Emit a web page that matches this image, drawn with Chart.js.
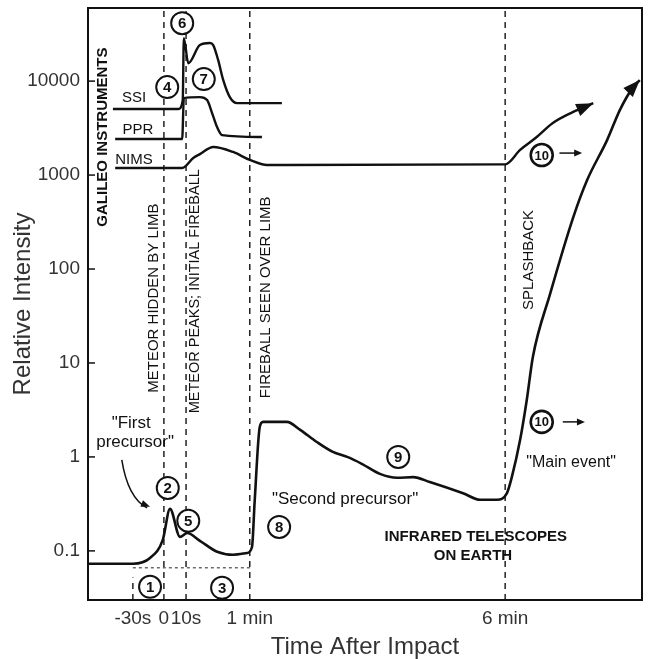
<!DOCTYPE html>
<html>
<head>
<meta charset="utf-8">
<title>Impact light curve</title>
<script src="https://cdn.jsdelivr.net/npm/chart.js@4.4.1/dist/chart.umd.min.js"></script>
<style>
  html, body { margin: 0; padding: 0; background: #fff; }
  #wrap { width: 648px; height: 659px; }
</style>
</head>
<body>
<div id="wrap"><canvas id="lightCurve"></canvas></div>
<script>
const FONT = '"Liberation Sans", Arial, Helvetica, sans-serif';

// schematic time axis (not to scale): where each marked time sits
const timeLabels = ['-30s', '0', '10s', '1 min', '6 min'];
const timePos = [8.1, 13.7, 17.7, 29.2, 75.3];

const intensityTicks = [0.1, 1, 10, 100, 1000, 10000];
const intensityLabels = ['0.1', '1', '10', '100', '1000', '10000'];

// infrared telescopes on Earth
const irX = [0, 8.1, 11.2, 13.5, 14.8, 16.6, 17.9, 20.2, 23.3, 26.2, 28.7, 29.6, 30.1, 31.0, 31.6,
  35.9, 38.3, 41.3, 44.2, 46.8, 49.5, 52.7, 55.8, 58.7, 61.7, 67.7, 70.8, 73.8, 75.6, 76.5,
  78.0, 79.2, 80.3, 83.4, 87.6, 90.1, 93.7, 96.0, 98.4, 99.6];
const irY = [0.073, 0.073, 0.084, 0.131, 0.28, 0.141, 0.155, 0.128, 0.098, 0.091, 0.095, 0.11, 0.35, 2.08, 2.36,
  2.36, 1.94, 1.44, 1.13, 1.0, 0.84, 0.66, 0.60, 0.61, 0.54, 0.41, 0.35, 0.35, 0.41, 0.61,
  1.52, 4.04, 11.6, 54, 357, 885, 2355, 4915, 8630, 10250];

// Galileo instruments
const ssiX = [4.5, 16.3, 17.1, 17.3, 18.1, 20.2, 22.0, 22.6, 23.5, 24.4, 25.6, 26.9, 35.0];
const ssiY = [5040, 5040, 6280, 28700, 15500, 24200, 25400, 24200, 16700, 10300, 6760, 5830, 5830];

const pprX = [4.9, 17.0, 17.3, 20.2, 21.5, 22.4, 23.3, 24.2, 31.4];
const pprY = [2420, 2420, 6590, 6760, 6280, 4570, 3240, 2660, 2540];

const nimsX = [4.9, 17.0, 19.0, 20.2, 22.6, 26.2, 29.2, 32.3, 75.3, 78.0, 81.0, 83.9, 87.5, 91.2];
const nimsY = [1190, 1190, 1520, 1670, 1990, 1760, 1450, 1280, 1300, 1850, 2540, 3580, 4680, 5830];

// bracket under intervals 1 and 3
const bracketX = [8.1, 29.6];
const bracketLevel = 0.066;

const Y_MIN = 0.03, Y_MAX = 60000;

const pts = (xs, ys) => xs.map((x, i) => ({ x, y: ys[i] }));

function curve(xs, ys, width, arrow) {
  return {
    data: pts(xs, ys),
    borderColor: '#111',
    borderWidth: width,
    cubicInterpolationMode: 'monotone',
    pointRadius: 0,
    fill: false,
    arrowEnd: arrow
  };
}

function dashed(data, width, dash) {
  return {
    data,
    borderColor: '#222',
    borderWidth: width,
    borderDash: dash,
    tension: 0,
    pointRadius: 0,
    fill: false
  };
}

const datasets = [
  curve(irX, irY, 2.6, true),
  curve(ssiX, ssiY, 2.4, false),
  curve(pprX, pprY, 2.4, false),
  curve(nimsX, nimsY, 2.4, true),
  dashed([{ x: timePos[0], y: Y_MIN }, { x: timePos[0], y: 0.052 }], 1.5, [6, 5]),
  ...timePos.slice(1).map(t => dashed([{ x: t, y: Y_MIN }, { x: t, y: Y_MAX }], 1.5, [6, 5])),
  dashed(bracketX.map(x => ({ x, y: bracketLevel })), 1, [3, 3])
];

// text drawn over the plot, placed in data coordinates
const notes = [
  { t: 'GALILEO INSTRUMENTS', x: 2.7, y: 2535, rot: true, font: 'bold 15px' },
  { t: 'SSI', x: 8.3, y: 6590, font: '15px' },
  { t: 'PPR', x: 9.0, y: 3010, font: '15px' },
  { t: 'NIMS', x: 8.3, y: 1445, font: '15px' },
  { t: 'METEOR HIDDEN BY LIMB', x: 11.9, y: 49, rot: true, font: '15px' },
  { t: 'METEOR PEAKS; INITIAL FIREBALL', x: 19.3, y: 58, rot: true, font: '14.5px' },
  { t: 'FIREBALL SEEN OVER LIMB', x: 32.1, y: 50, rot: true, font: '15px' },
  { t: 'SPLASHBACK', x: 79.6, y: 125, rot: true, font: '15px' },
  { t: '"First', x: 7.8, y: 2.3, font: '17px' },
  { t: 'precursor"', x: 8.5, y: 1.44, font: '17px' },
  { t: '"Second precursor"', x: 46.4, y: 0.35, font: '17px' },
  { t: '"Main event"', x: 87.2, y: 0.86, font: '16px' },
  { t: 'INFRARED TELESCOPES', x: 70.0, y: 0.141, font: 'bold 15px' },
  { t: 'ON EARTH', x: 69.5, y: 0.0885, font: 'bold 15px' }
];

const markers = [
  ['1', 11.2, 0.0414], ['2', 14.4, 0.468], ['3', 24.2, 0.0404], ['4', 14.3, 8630],
  ['5', 18.1, 0.209], ['6', 17.0, 41400], ['7', 20.9, 10500], ['8', 34.5, 0.18],
  ['9', 56.0, 1.0], ['10', 81.9, 1633], ['10', 81.9, 2.36]
];

const shortArrows = [
  { x0: 85.1, x1: 89.2, y: 1714 },
  { x0: 85.7, x1: 89.7, y: 2.36 }
];

function arrowHead(ctx, x0, y0, x1, y1, len, half) {
  const a = Math.atan2(y1 - y0, x1 - x0);
  ctx.beginPath();
  ctx.moveTo(x1, y1);
  ctx.lineTo(x1 - len * Math.cos(a) + half * Math.sin(a), y1 - len * Math.sin(a) - half * Math.cos(a));
  ctx.lineTo(x1 - len * Math.cos(a) - half * Math.sin(a), y1 - len * Math.sin(a) + half * Math.cos(a));
  ctx.closePath();
  ctx.fill();
}

const extras = {
  id: 'extras',
  afterDatasetsDraw(chart) {
    const { ctx, chartArea: a, scales: { x, y } } = chart;
    ctx.save();
    ctx.strokeStyle = '#111';
    ctx.fillStyle = '#111';

    // frame and inward tick marks
    ctx.lineWidth = 2;
    ctx.strokeRect(a.left, a.top, a.right - a.left, a.bottom - a.top);
    ctx.lineWidth = 1.5;
    intensityTicks.forEach(v => {
      const py = y.getPixelForValue(v);
      ctx.beginPath();
      ctx.moveTo(a.left, py);
      ctx.lineTo(a.left + 7, py);
      ctx.stroke();
    });

    // arrowheads on the curves that keep rising
    chart.data.datasets.forEach((ds, i) => {
      if (!ds.arrowEnd) return;
      const el = chart.getDatasetMeta(i).data;
      const p = el[el.length - 1], q = el[el.length - 2];
      arrowHead(ctx, q.x, q.y, p.x, p.y, 17, 6.5);
    });

    // short "continues" arrows next to marker 10
    ctx.lineWidth = 1.5;
    shortArrows.forEach(s => {
      const x0 = x.getPixelForValue(s.x0), x1 = x.getPixelForValue(s.x1), py = y.getPixelForValue(s.y);
      ctx.beginPath();
      ctx.moveTo(x0, py);
      ctx.lineTo(x1 - 4, py);
      ctx.stroke();
      arrowHead(ctx, x0, py, x1, py, 8, 3.5);
    });

    // curved pointer to the first precursor
    const sx = x.getPixelForValue(6.1), sy = y.getPixelForValue(0.93);
    const cx = x.getPixelForValue(7.2), cy = y.getPixelForValue(0.366);
    const ex = x.getPixelForValue(11.2), ey = y.getPixelForValue(0.294);
    ctx.lineWidth = 1.5;
    ctx.beginPath();
    ctx.moveTo(sx, sy);
    ctx.quadraticCurveTo(cx, cy, ex - 3, ey + 1);
    ctx.stroke();
    arrowHead(ctx, cx, cy, ex, ey, 9, 3.5);

    // text notes
    ctx.textAlign = 'center';
    ctx.textBaseline = 'middle';
    notes.forEach(n => {
      const px = x.getPixelForValue(n.x), py = y.getPixelForValue(n.y);
      ctx.font = n.font + ' ' + FONT;
      ctx.save();
      ctx.translate(px, py);
      if (n.rot) ctx.rotate(-Math.PI / 2);
      ctx.fillText(n.t, 0, 0);
      ctx.restore();
    });

    // circled numbers
    markers.forEach(([label, mx, my]) => {
      const px = x.getPixelForValue(mx), py = y.getPixelForValue(my);
      ctx.beginPath();
      ctx.arc(px, py, 11, 0, Math.PI * 2);
      ctx.fillStyle = '#fff';
      ctx.fill();
      ctx.lineWidth = label.length > 1 ? 2.6 : 2;
      ctx.stroke();
      ctx.fillStyle = '#111';
      ctx.font = (label.length > 1 ? 'bold 13px ' : 'bold 15px ') + FONT;
      ctx.fillText(label, px, py + 1);
    });

    ctx.restore();
  }
};

new Chart(document.getElementById('lightCurve'), {
  type: 'line',
  data: { datasets },
  options: {
    responsive: true,
    maintainAspectRatio: false,
    animation: false,
    layout: { padding: { top: 8, right: 6, left: 0, bottom: 0 } },
    plugins: { legend: { display: false }, tooltip: { enabled: false } },
    scales: {
      x: {
        type: 'linear',
        min: 0,
        max: 100,
        grid: { display: false, drawTicks: false },
        border: { display: false },
        afterBuildTicks: s => { s.ticks = timePos.map(v => ({ value: v })); },
        afterFit: s => { s.height = 59; s.paddingLeft = 0; s.paddingRight = 0; },
        ticks: {
          autoSkip: false,
          maxRotation: 0,
          padding: 7,
          color: '#333',
          font: { size: 19, family: FONT },
          callback: (v, i) => timeLabels[i]
        },
        title: {
          display: true,
          text: 'Time After Impact',
          color: '#333',
          font: { size: 24, family: FONT, lineHeight: 1 },
          padding: 0
        }
      },
      y: {
        type: 'logarithmic',
        min: Y_MIN,
        max: Y_MAX,
        grid: { display: false, drawTicks: false },
        border: { display: false },
        afterBuildTicks: s => { s.ticks = intensityTicks.map(v => ({ value: v })); },
        // fixed gutter; no extra room for the top label, it sits well inside the frame
        afterFit: s => { s.width = 88; s.paddingTop = 0; s.paddingBottom = 0; },
        ticks: {
          padding: 8,
          color: '#333',
          font: { size: 19, family: FONT },
          callback: (v, i) => intensityLabels[i]
        },
        title: {
          display: true,
          text: 'Relative Intensity',
          color: '#333',
          font: { size: 24, family: FONT, lineHeight: 1.2 },
          padding: { top: 9, bottom: 0 }
        }
      }
    }
  },
  plugins: [extras]
});
</script>
</body>
</html>
